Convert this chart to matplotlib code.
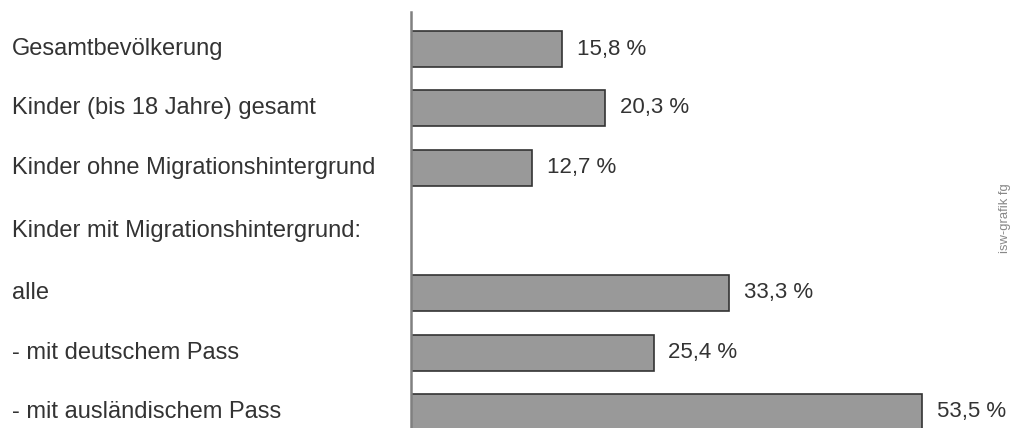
import matplotlib.pyplot as plt
from matplotlib.transforms import blended_transform_factory

# DATA
labels = ['Gesamtbevölkerung', 'Kinder (bis 18 Jahre) gesamt',
          'Kinder ohne Migrationshintergrund', 'Kinder mit Migrationshintergrund:',
          'alle', '- mit deutschem Pass', '- mit ausländischem Pass']
values = [15.8, 20.3, 12.7, None, 33.3, 25.4, 53.5]

# LAYOUT (row centres, in rows; the empty sub-heading row is a bit taller)
row_pos = [0, 1, 2.01, 3.08, 4.13, 5.15, 6.15]

plt.rcParams['font.family'] = ['Liberation Sans', 'DejaVu Sans']

fig = plt.figure(figsize=(10.18, 4.28), dpi=100)
ax = fig.add_axes([411/1018, 0, 607/1018, 416/428])

for y, v in zip(row_pos, values):
    if v is not None:
        ax.barh(y, v, height=0.61, color='#999999', edgecolor='#333333', linewidth=1.2)
        ax.text(v + 1.55, y, f'{v:.1f} %'.replace('.', ','), va='center', ha='left',
                fontsize=16, color='#333333')

trans = blended_transform_factory(fig.transFigure, ax.transData)
for y, lab in zip(row_pos, labels):
    ax.text(12/1018, y, lab, transform=trans, va='center', ha='left',
            fontsize=17, color='#333333')

ax.set_xlim(0, 607/9.55)
ax.set_ylim((428 - 49)/59, (12 - 49)/59)
for s in ['top', 'right', 'bottom']:
    ax.spines[s].set_visible(False)
ax.spines['left'].set_color('#808080')
ax.spines['left'].set_linewidth(1.8)
ax.set_xticks([])
ax.set_yticks([])

fig.text(1005/1018, 1 - 218/428, 'isw-grafik fg', rotation=90, va='center', ha='center',
         fontsize=9.4, color='#888888')

fig.savefig('out.png', dpi=100)
